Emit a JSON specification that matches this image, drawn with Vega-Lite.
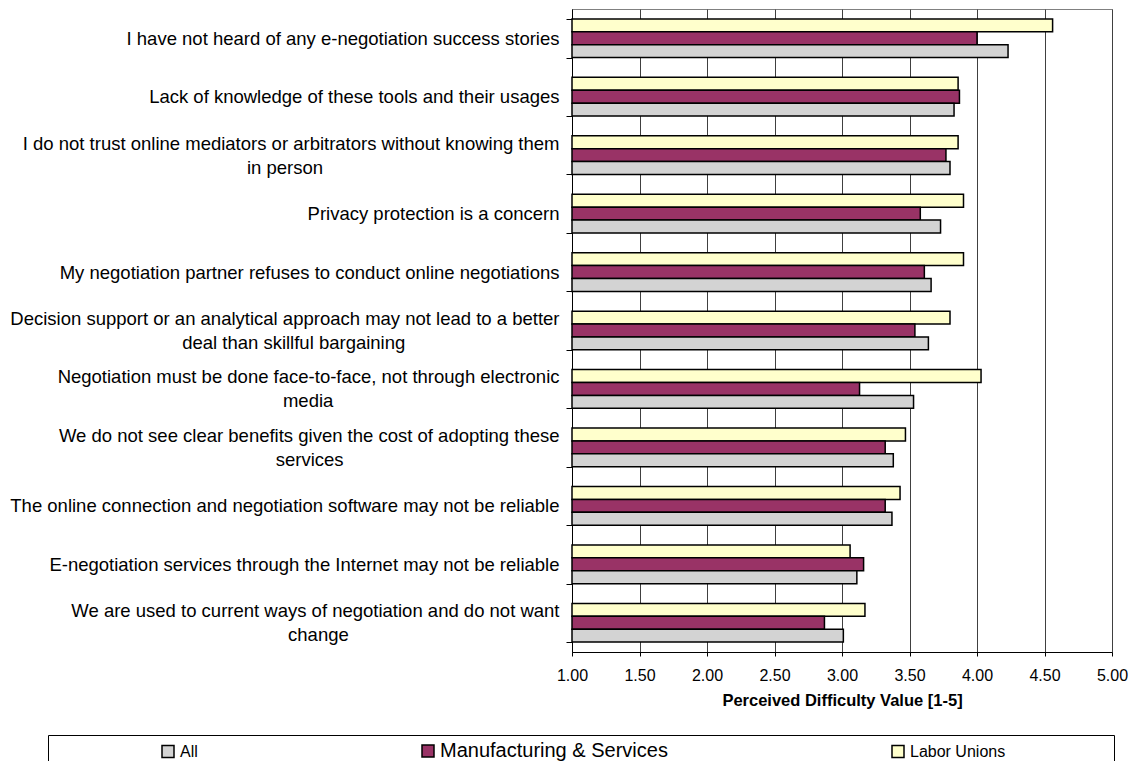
{
  "$schema": "https://vega.github.io/schema/vega-lite/v6.json",
  "width": 540,
  "height": 643,
  "autosize": {"type": "none"},
  "padding": {"left": 572, "top": 9, "right": 20, "bottom": 109},
  "background": "white",
  "config": {
    "font": "Liberation Sans",
    "view": {"stroke": "#808080", "strokeWidth": 1}
  },
  "data": {
    "values": [
      {"statement": "I have not heard of any e-negotiation success stories", "group": "Labor Unions", "value": 4.56},
      {"statement": "I have not heard of any e-negotiation success stories", "group": "Manufacturing & Services", "value": 4.0},
      {"statement": "I have not heard of any e-negotiation success stories", "group": "All", "value": 4.23},
      {"statement": "Lack of knowledge of these tools and their usages", "group": "Labor Unions", "value": 3.86},
      {"statement": "Lack of knowledge of these tools and their usages", "group": "Manufacturing & Services", "value": 3.87},
      {"statement": "Lack of knowledge of these tools and their usages", "group": "All", "value": 3.83},
      {"statement": "I do not trust online mediators or arbitrators without knowing them|in person", "group": "Labor Unions", "value": 3.86},
      {"statement": "I do not trust online mediators or arbitrators without knowing them|in person", "group": "Manufacturing & Services", "value": 3.77},
      {"statement": "I do not trust online mediators or arbitrators without knowing them|in person", "group": "All", "value": 3.8},
      {"statement": "Privacy protection is a concern", "group": "Labor Unions", "value": 3.9},
      {"statement": "Privacy protection is a concern", "group": "Manufacturing & Services", "value": 3.58},
      {"statement": "Privacy protection is a concern", "group": "All", "value": 3.73},
      {"statement": "My negotiation partner refuses to conduct online negotiations", "group": "Labor Unions", "value": 3.9},
      {"statement": "My negotiation partner refuses to conduct online negotiations", "group": "Manufacturing & Services", "value": 3.61},
      {"statement": "My negotiation partner refuses to conduct online negotiations", "group": "All", "value": 3.66},
      {"statement": "Decision support or an analytical approach may not lead to a better|deal than skillful bargaining", "group": "Labor Unions", "value": 3.8},
      {"statement": "Decision support or an analytical approach may not lead to a better|deal than skillful bargaining", "group": "Manufacturing & Services", "value": 3.54},
      {"statement": "Decision support or an analytical approach may not lead to a better|deal than skillful bargaining", "group": "All", "value": 3.64},
      {"statement": "Negotiation must be done face-to-face, not through electronic|media", "group": "Labor Unions", "value": 4.03},
      {"statement": "Negotiation must be done face-to-face, not through electronic|media", "group": "Manufacturing & Services", "value": 3.13},
      {"statement": "Negotiation must be done face-to-face, not through electronic|media", "group": "All", "value": 3.53},
      {"statement": "We do not see clear benefits given the cost of adopting these|services", "group": "Labor Unions", "value": 3.47},
      {"statement": "We do not see clear benefits given the cost of adopting these|services", "group": "Manufacturing & Services", "value": 3.32},
      {"statement": "We do not see clear benefits given the cost of adopting these|services", "group": "All", "value": 3.38},
      {"statement": "The online connection and negotiation software may not be reliable", "group": "Labor Unions", "value": 3.43},
      {"statement": "The online connection and negotiation software may not be reliable", "group": "Manufacturing & Services", "value": 3.32},
      {"statement": "The online connection and negotiation software may not be reliable", "group": "All", "value": 3.37},
      {"statement": "E-negotiation services through the Internet may not be reliable", "group": "Labor Unions", "value": 3.06},
      {"statement": "E-negotiation services through the Internet may not be reliable", "group": "Manufacturing & Services", "value": 3.16},
      {"statement": "E-negotiation services through the Internet may not be reliable", "group": "All", "value": 3.11},
      {"statement": "We are used to current ways of negotiation and do not want|change", "group": "Labor Unions", "value": 3.17},
      {"statement": "We are used to current ways of negotiation and do not want|change", "group": "Manufacturing & Services", "value": 2.87},
      {"statement": "We are used to current ways of negotiation and do not want|change", "group": "All", "value": 3.01}
    ]
  },
  "mark": {"type": "bar", "stroke": "black", "strokeWidth": 1.5},
  "encoding": {
    "y": {
      "field": "statement",
      "type": "nominal",
      "sort": null,
      "scale": {"paddingInner": 0.338, "paddingOuter": 0.169},
      "axis": {
        "title": null,
        "labelExpr": "indexof(datum.label, '|') < 0 ? ['\u200b', datum.label] : [split(datum.label, '|')[0], '\u200b', pad(split(datum.label, '|')[1], length(split(datum.label, '|')[1]) + round(0.79 * (length(split(datum.label, '|')[0]) - length(split(datum.label, '|')[1]))), '\u00a0') + '\u200b']",
        "labelFontSize": 18.5,
        "labelColor": "black",
        "labelLimit": 0,
        "labelLineHeight": 12,
        "labelOffset": -12,
        "labelAlign": "right",
        "labelBaseline": "middle",
        "labelPadding": 7,
        "tickBand": "extent",
        "tickSize": 6,
        "tickColor": "black",
        "domainColor": "black"
      }
    },
    "yOffset": {
      "field": "group",
      "type": "nominal",
      "sort": ["Labor Unions", "Manufacturing & Services", "All"],
      "scale": {"paddingInner": 0, "paddingOuter": 0}
    },
    "x": {
      "field": "value",
      "type": "quantitative",
      "scale": {"domain": [1, 5], "nice": false, "zero": false, "clamp": true},
      "axis": {
        "values": [1, 1.5, 2, 2.5, 3, 3.5, 4, 4.5, 5],
        "format": ".2f",
        "title": "Perceived Difficulty Value [1-5]",
        "titleFontSize": 16.5,
        "titleFontWeight": "bold",
        "titleColor": "black",
        "titlePadding": 9,
        "labelFontSize": 16,
        "labelColor": "black",
        "labelPadding": 11,
        "labelFlush": false,
        "tickSize": 4,
        "tickColor": "black",
        "domainColor": "black",
        "grid": true,
        "gridColor": "#404040"
      }
    },
    "fill": {
      "field": "group",
      "type": "nominal",
      "scale": {
        "domain": ["All", "Manufacturing & Services", "Labor Unions"],
        "range": ["#D3D3D3", "#993366", "#FFFFCC"]
      },
      "legend": {
        "orient": "none",
        "legendX": -524,
        "legendY": 726,
        "direction": "horizontal",
        "columns": 3,
        "title": "\u00a0",
        "titleOrient": "right",
        "titlePadding": 101,
        "symbolType": "square",
        "symbolSize": 144,
        "symbolStrokeColor": "black",
        "symbolStrokeWidth": 1.5,
        "symbolOpacity": 1,
        "symbolOffset": 104,
        "labelFontSize": 16,
        "labelColor": "black",
        "labelOffset": 4,
        "labelLimit": 400,
        "columnPadding": 118,
        "padding": 8,
        "strokeColor": "black",
        "fillColor": "white",
        "encode": {
          "labels": {
            "update": {
              "fontSize": {"signal": "datum.label === 'Manufacturing & Services' ? 20 : 16"}
            }
          }
        }
      }
    }
  }
}
